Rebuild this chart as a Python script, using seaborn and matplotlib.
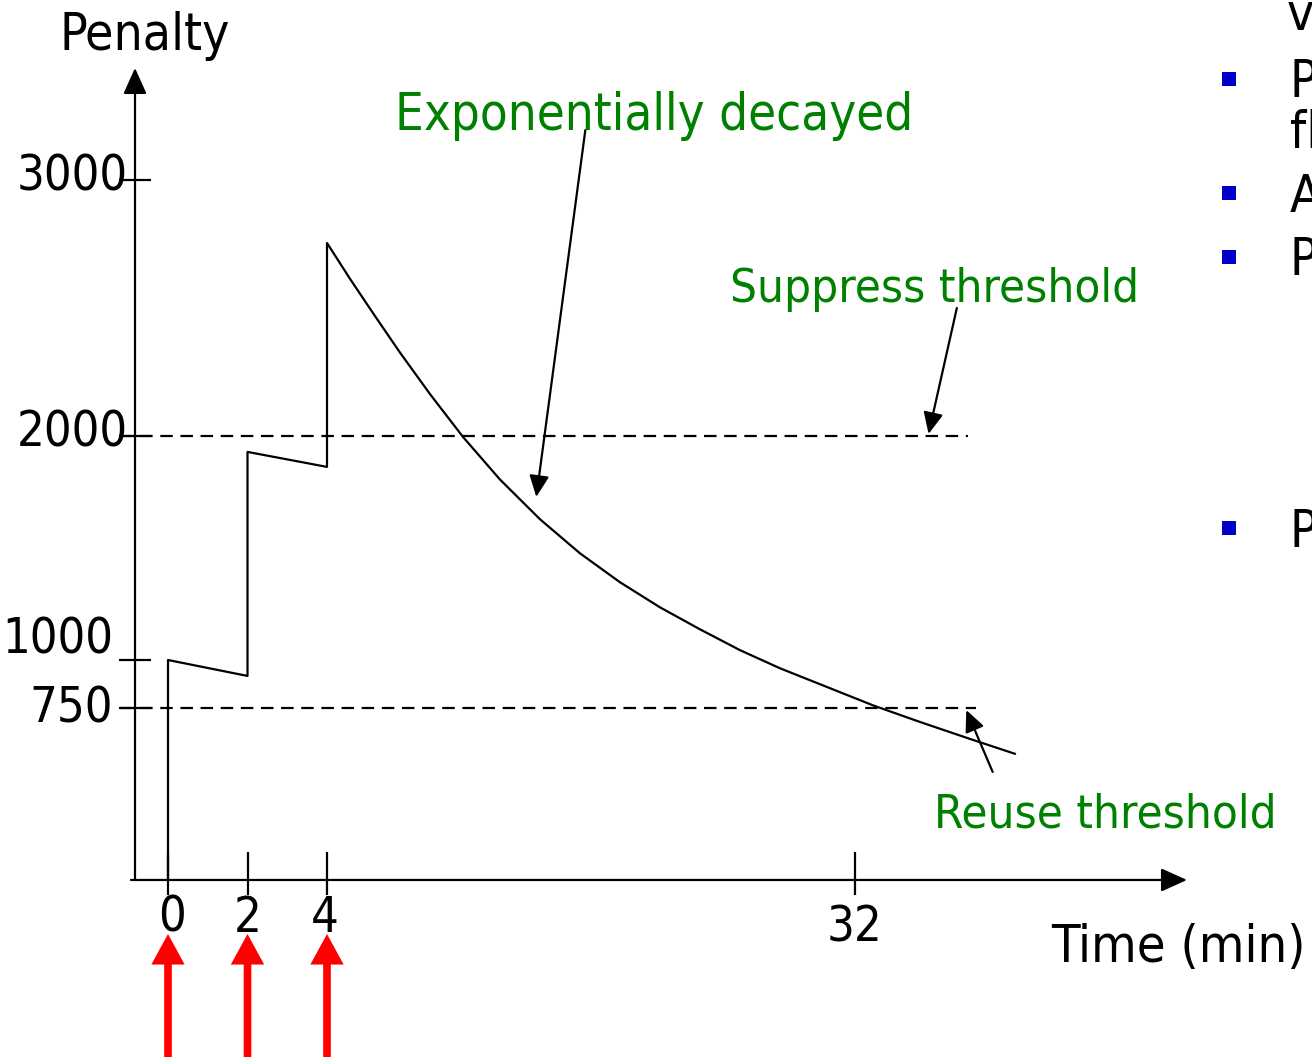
"""
Route flap dampening: penalty over time, with suppress/reuse thresholds.

Saves out.png (1312x1057).
"""
import matplotlib
matplotlib.use("Agg")
import matplotlib.pyplot as plt
import numpy as np
import seaborn as sns
from matplotlib import font_manager
from matplotlib.font_manager import FontProperties
from matplotlib.patches import Rectangle

# --- values ---
flap_times = [0, 2, 4]
step_time = [0, 0, 2, 2, 4, 4]
step_penalty = [0, 1000, 917, 1929, 1862, 2754]
decay_time = [5.22, 6.55, 7.87, 9.46, 11.21, 13.17, 15.30, 17.42, 19.54, 21.66,
              23.78, 25.90, 28.02, 30.14, 32.95, 35.45, 38.10, 40.49]
decay_penalty = [2614, 2468, 2326, 2164, 1996, 1806, 1628, 1476, 1347, 1235,
                 1137, 1044, 957, 874, 764, 689, 615, 550]
thresholds = [2000, 750]
x_ticks = [0, 2, 4, 32]
y_ticks = [750, 1000, 2000, 3000]
bullet_letters = ["P", "A", "P", "P"]

W, H = 1312, 1057
GREEN = "#008000"
RED = "#ff0000"
BLUE = "#0000c8"
LW = 1.6

# the sketch is not drawn to scale: piecewise linear axes fitted to its tick marks
X_KNOTS = [-10, 0, 4, 32, 100]
X_PIX = [-229.5, 168, 327, 855, 2137.5]
Y_KNOTS = [-5000, 750, 1000, 2000, 3000, 10000]
Y_PIX = [-969.5, 349, 397, 621, 877, 2669]  # counted from the bottom edge


def fx(t):
    return np.interp(t, X_KNOTS, X_PIX)


def ix(p):
    return np.interp(p, X_PIX, X_KNOTS)


def fy(v):
    return np.interp(v, Y_KNOTS, Y_PIX)


def iy(p):
    return np.interp(p, Y_PIX, Y_KNOTS)


_cond = [f for f in font_manager.findSystemFonts() if f.endswith("DejaVuSansCondensed.ttf")]


def font(size):
    if _cond:
        return FontProperties(fname=_cond[0], size=size)
    return FontProperties(family="DejaVu Sans", size=size * 0.9)


def ftext(x, y, s, size, color="black"):
    # x, y in pixels from the top-left corner, y is the baseline
    fig.text(x / W, 1 - y / H, s, fontproperties=font(size), color=color,
             ha="left", va="baseline")


sns.set_theme(style="white")
plt.rcParams["lines.scale_dashes"] = False

fig = plt.figure(figsize=(W / 100, H / 100), dpi=100)
ax = fig.add_axes([0, 0, 1, 1])
ax.set_xscale("function", functions=(fx, ix))
ax.set_yscale("function", functions=(fy, iy))
ax.set_xlim(ix(0), ix(W))
ax.set_ylim(iy(0), iy(H))

y_axis_t = ix(135)
for s in ax.spines.values():
    s.set_visible(False)
ax.spines["left"].set_position(("data", y_axis_t))
ax.spines["bottom"].set_position(("data", 0))

# axis lines with arrow heads
axis_kw = dict(arrowstyle="-|>,head_length=1.6,head_width=0.72", mutation_scale=10,
               color="black", lw=LW, shrinkA=0, shrinkB=0)
ax.annotate("", xy=(y_axis_t, iy(H - 68)), xytext=(y_axis_t, 0), arrowprops=axis_kw)
ax.annotate("", xy=(ix(1187), 0), xytext=(ix(131), 0), arrowprops=axis_kw)

# ticks
ax.set_xticks(x_ticks)
ax.set_xticks(x_ticks, minor=True)
ax.xaxis.remove_overlapping_locs = False
ax.set_xticklabels([])
ax.set_xticklabels([], minor=True)
ax.tick_params(axis="x", which="major", direction="in", length=20, width=LW,
               color="black", bottom=True)
ax.tick_params(axis="x", which="minor", direction="out", length=11, width=LW,
               color="black", bottom=True)
ax.set_yticks(y_ticks)
ax.set_yticklabels([])
ax.tick_params(axis="y", direction="inout", length=23, width=LW, color="black", left=True)

x_lab_dx = [4, 0, -2, 0]
x_lab_dy = [-52, -52, -52, -62]
for t, dx, dy in zip(x_ticks, x_lab_dx, x_lab_dy):
    ax.annotate(str(t), xy=(t, 0), xytext=(dx, dy), textcoords="offset pixels",
                ha="center", va="baseline", fontproperties=font(35), color="black")

y_lab_dx = [-22, -22, -7, -7]
y_lab_dy = [-14, 7, -10, -10]
for v, dx, dy in zip(y_ticks, y_lab_dx, y_lab_dy):
    ax.annotate(str(v), xy=(y_axis_t, v), xytext=(dx, dy), textcoords="offset pixels",
                ha="right", va="baseline", fontproperties=font(35), color="black")

# penalty line: jumps at each flap, then exponential decay
sns.lineplot(x=step_time + decay_time, y=step_penalty + decay_penalty, sort=False,
             estimator=None, color="black", lw=LW, ax=ax)

# suppress / reuse thresholds
ax.hlines(thresholds, xmin=-1.2, xmax=[38.0, 38.4], colors="black", lw=LW,
          linestyles=[(0, (9, 5.5))])

# flap events
for t in flap_times:
    ax.annotate("", xy=(t, iy(H - 934)), xytext=(t, iy(-20)),
                arrowprops=dict(arrowstyle="simple,head_length=2.2,head_width=2.4,tail_width=0.55",
                                mutation_scale=10, color=RED, lw=0, shrinkA=0, shrinkB=0))

# callout arrows
ann_kw = dict(arrowstyle="-|>,head_length=1.3,head_width=0.6", mutation_scale=10,
              color="black", lw=LW, shrinkA=0, shrinkB=0)
ax.annotate("", xy=(15.1, 1728), xytext=(17.7, 3195), arrowprops=ann_kw)
ax.annotate("", xy=(35.9, 2008), xytext=(37.4, 2500), arrowprops=ann_kw)
ax.annotate("", xy=(37.9, 741), xytext=(39.3, 471), arrowprops=ann_kw)

ftext(60, 50, "Penalty", 37)
ftext(1051, 962, "Time (min)", 37.5)
ftext(395, 130, "Exponentially decayed", 36.5, GREEN)
ftext(730, 302, "Suppress threshold", 34, GREEN)
ftext(934, 828, "Reuse threshold", 34, GREEN)

# slide text cut off at the right edge
ftext(1287, 30, "v", 37)
ftext(1290, 148, "fl", 37)
for letter, yb, yc in zip(bullet_letters, [97, 212, 275, 547], [79, 193, 257, 528]):
    ftext(1290, yb, letter, 37)
    fig.add_artist(Rectangle((1222 / W, 1 - (yc + 7) / H), 14 / W, 14 / H,
                             transform=fig.transFigure, color=BLUE, lw=0))

fig.savefig("out.png", dpi=100)
plt.close(fig)
